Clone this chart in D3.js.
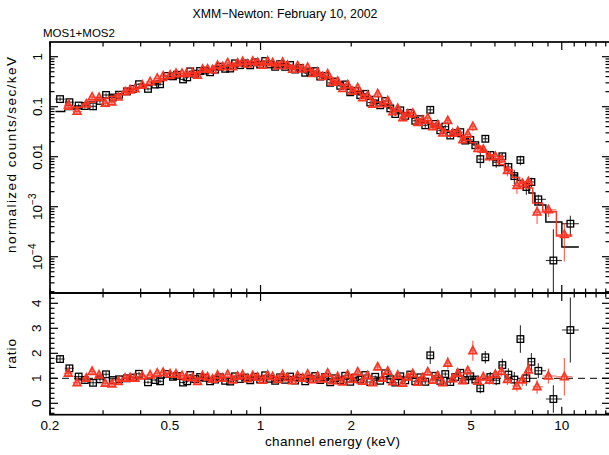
<!DOCTYPE html>
<html><head><meta charset="utf-8">
<script src="https://cdn.jsdelivr.net/npm/d3@7/dist/d3.min.js"></script>
<style>body{margin:0;background:#fff}svg{display:block}</style>
</head><body>
<svg id="c" width="609" height="455"></svg>
<script>
// ---------- data ----------
// MOS1 (black squares): bin energies (keV), model (counts/s/keV), data/model ratio, ratio error
const mos1Energy = [0.216,0.232,0.249,0.261,0.278,0.293,0.307,0.323,0.339,0.360,0.377,0.395,0.423,0.447,0.464,0.489,0.512,0.528,0.553,0.571,
 0.584,0.607,0.630,0.655,0.680,0.707,0.734,0.763,0.793,0.823,0.856,0.889,0.924,0.960,0.997,
 1.036,1.076,1.118,1.162,1.207,1.254,1.303,1.354,1.407,1.462,1.519,1.578,1.639,1.703,1.769,1.839,1.910,1.985,
 2.062,2.143,2.226,2.313,2.403,2.496,2.594,2.696,2.801,2.910,
 3.023,3.141,3.263,3.391,3.523,3.660,3.803,3.951,
 4.105,4.265,4.431,4.604,4.783,4.970,5.165,
 5.365,5.575,5.792,6.06,6.35,6.65,6.96,7.29,7.63,7.93,8.36,9.38,10.68];
const mos1Model = [0.0802,0.0879,0.0986,0.1107,0.1242,0.1361,0.1479,0.1637,0.1811,0.2023,0.2198,0.2388,0.2704,0.2979,0.3192,0.3516,0.3819,0.3999,0.4227,0.4385,
 0.4508,0.4721,0.4943,0.5176,0.5546,0.5808,0.6081,0.6368,0.6668,0.6823,0.6982,0.7145,0.7311,0.7311,0.7311,
 0.7311,0.7145,0.6982,0.6823,0.6668,0.6368,0.6081,0.5808,0.5420,0.5058,0.4721,0.4305,0.3926,0.3581,0.3192,0.2844,0.2535,0.2259,
 0.2014,0.1795,0.1600,0.1426,0.1300,0.1186,0.1081,0.0964,0.0859,0.0783,
 0.0714,0.0652,0.0594,0.0542,0.0494,0.0451,0.0411,0.0375,
 0.0342,0.0312,0.0284,0.0254,0.0226,0.0201,0.0179,
 0.0149,0.0124,0.0103,0.00839,0.00667,0.00542,0.00431,0.00334,0.00248,0.00188,0.00108,0.000494,0.000156];
const mos1Ratio = [1.77,1.40,1.07,0.93,0.82,0.96,1.16,0.93,0.96,1.00,1.03,1.18,0.84,0.93,0.88,1.17,1.06,1.09,0.83,0.88,
 1.13,0.97,1.05,1.02,0.88,0.95,1.04,0.90,0.87,1.08,0.97,1.03,0.92,1.06,0.95,
 1.12,0.98,0.90,1.04,0.94,1.07,0.91,1.02,0.88,0.97,1.09,0.93,1.05,0.84,1.00,0.92,1.10,0.86,
 1.03,0.95,1.13,0.85,1.06,0.90,1.20,0.96,0.83,1.08,
 0.92,1.15,0.88,1.04,0.86,1.92,1.10,0.90,
 1.17,0.85,1.05,1.22,0.93,1.08,0.95,
 0.60,1.84,1.05,0.92,1.53,1.15,0.95,2.57,1.00,1.66,1.30,0.17,2.93];
const mos1Err = [0.15,0.13,0.11,0.10,0.10,0.09,0.09,0.08,0.08,0.07,0.07,0.07,0.06,0.06,0.06,0.06,0.05,0.05,0.05,0.05,
 0.04,0.04,0.04,0.04,0.04,0.04,0.04,0.04,0.04,0.04,0.04,0.04,0.04,0.04,0.04,
 0.04,0.04,0.04,0.04,0.04,0.04,0.04,0.04,0.05,0.05,0.05,0.05,0.05,0.05,0.05,0.05,0.05,0.05,
 0.05,0.05,0.05,0.05,0.05,0.05,0.07,0.07,0.07,0.07,
 0.07,0.07,0.07,0.07,0.09,0.35,0.09,0.09,
 0.10,0.10,0.11,0.12,0.12,0.13,0.13,
 0.20,0.25,0.20,0.20,0.25,0.25,0.30,0.55,0.30,0.35,0.30,0.55,1.30];

// MOS2 (red triangles)
const mos2Energy = [0.230,0.246,0.264,0.276,0.291,0.305,0.321,0.337,0.355,0.369,0.383,0.405,0.430,0.454,0.475,0.501,0.524,0.549,0.568,
 0.595,0.618,0.642,0.667,0.693,0.720,0.748,0.778,0.808,0.839,0.872,0.906,0.942,0.978,1.016,
 1.056,1.097,1.140,1.184,1.230,1.278,1.328,1.380,1.434,1.490,1.548,1.608,1.671,1.736,1.804,1.874,1.947,2.023,
 2.102,2.184,2.269,2.358,2.449,2.545,2.645,2.748,2.855,2.966,
 3.082,3.202,3.327,3.457,3.591,3.731,3.877,4.028,
 4.185,4.348,4.517,4.693,4.876,5.067,5.265,
 5.49,5.75,6.02,6.30,6.60,7.10,7.40,7.75,8.28,9.03,10.2];
const mos2Model = [0.0891,0.0977,0.1120,0.1225,0.1343,0.1459,0.1607,0.1786,0.1968,0.2109,0.2259,0.2466,0.2780,0.3062,0.3327,0.3664,0.3963,0.4188,0.4385,
 0.4615,0.4832,0.5060,0.5361,0.5677,0.5945,0.6225,0.6518,0.6746,0.6903,0.7064,0.7228,0.7311,0.7311,0.7311,
 0.7228,0.7064,0.6903,0.6746,0.6518,0.6225,0.5945,0.5614,0.5239,0.4890,0.4513,0.4116,0.3754,0.3387,0.3018,0.2690,0.2397,0.2137,
 0.1905,0.1698,0.1513,0.1363,0.1243,0.1134,0.1023,0.0912,0.0821,0.0749,
 0.0683,0.0623,0.0568,0.0518,0.0473,0.0431,0.0393,0.0359,
 0.0327,0.0298,0.0269,0.0240,0.0214,0.0190,0.0164,
 0.0133,0.0108,0.0088,0.0070,0.00555,0.00384,0.00312,0.00237,0.00118,0.00079,0.00026];
const mos2Ratio = [1.20,0.82,1.00,1.27,1.13,0.80,0.77,0.87,1.00,1.02,1.00,1.09,1.13,1.20,1.23,1.17,1.17,1.10,1.05,
 1.02,0.87,1.10,1.05,0.96,1.12,1.00,1.15,0.93,1.08,1.13,0.98,1.10,1.04,0.92,
 1.12,1.06,0.95,1.14,1.02,0.90,1.10,1.00,1.16,0.94,1.08,0.97,1.20,0.90,1.06,0.85,1.14,0.95,
 1.25,0.88,1.10,0.82,1.45,1.00,1.28,0.86,1.12,0.80,
 1.05,1.18,0.84,1.02,1.25,0.92,1.10,0.82,
 1.60,0.98,1.20,0.90,1.30,2.10,0.88,
 1.05,0.92,1.15,1.27,0.95,0.69,0.93,1.33,0.66,1.09,1.06];
const mos2Err = [0.14,0.12,0.11,0.10,0.09,0.09,0.08,0.08,0.07,0.07,0.07,0.06,0.06,0.06,0.06,0.05,0.05,0.05,0.05,
 0.05,0.05,0.05,0.05,0.05,0.05,0.05,0.05,0.05,0.05,0.05,0.05,0.05,0.05,0.05,
 0.05,0.05,0.05,0.05,0.05,0.05,0.05,0.05,0.06,0.06,0.06,0.06,0.06,0.06,0.06,0.06,0.06,0.06,
 0.06,0.06,0.06,0.06,0.15,0.06,0.08,0.08,0.08,0.08,
 0.08,0.08,0.08,0.08,0.10,0.10,0.10,0.10,
 0.25,0.12,0.13,0.13,0.14,0.40,0.15,
 0.16,0.18,0.20,0.20,0.22,0.22,0.25,0.30,0.28,0.30,0.75];

// axis tick labels
const xTickLabels = [0.2, 0.5, 1, 2, 5, 10];
const yTickLabels = [1, 0.1, 0.01, 1e-3, 1e-4];
const ratioTickLabels = [0, 1, 2, 3, 4];

// ---------- layout ----------
const L = 50, R = 610, T1 = 42, B1 = 293, T2 = 293, B2 = 414.7;
const BLACK = "#000", RED = "#ff3322";
const FONT = "'Liberation Sans', Arial, Helvetica, sans-serif";

const x = d3.scaleLog().domain([0.2, 14.46]).range([L, R]);
const yTop = d3.scaleLog().domain([1.88e-5, 1.968]).range([B1, T1]);
const yRat = d3.scaleLinear().domain([-0.456, 4.412]).range([B2, T2]);

const svg = d3.select("#c");
svg.append("rect").attr("width", 609).attr("height", 455).attr("fill", "#fff");

const defs = svg.append("defs");
defs.append("clipPath").attr("id", "clipTop").append("rect")
  .attr("x", L).attr("y", T1).attr("width", R - L).attr("height", B1 - T1);
defs.append("clipPath").attr("id", "clipBot").append("rect")
  .attr("x", L).attr("y", T2).attr("width", R - L).attr("height", B2 - T2);

function build(E, M, Rt, Er) {
  const n = E.length;
  return E.map((e, i) => {
    const hi = i < n - 1 ? Math.sqrt(e * E[i + 1]) : e * e / Math.sqrt(E[i - 1] * e);
    const lo = i > 0 ? Math.sqrt(E[i - 1] * e) : e * e / Math.sqrt(e * E[i + 1]);
    return { e, lo, hi, m: M[i], r: Rt[i], er: Er[i], f: M[i] * Rt[i], fe: M[i] * Er[i] };
  });
}
const s1 = build(mos1Energy, mos1Model, mos1Ratio, mos1Err);
const s2 = build(mos2Energy, mos2Model, mos2Ratio, mos2Err);

const gTop = svg.append("g").attr("clip-path", "url(#clipTop)");
const gBot = svg.append("g").attr("clip-path", "url(#clipBot)");

// dashed unity line
gBot.append("line").attr("x1", L).attr("x2", R)
  .attr("y1", yRat(1)).attr("y2", yRat(1))
  .attr("stroke", BLACK).attr("stroke-width", 1).attr("stroke-dasharray", "7,5");

const stepLine = d3.line().x(d => x(d[0])).y(d => yTop(d[1]));

function drawSeries(data, color, marker) {
  // model step
  const pts = [];
  data.forEach(d => { pts.push([d.lo, d.m]); pts.push([d.hi, d.m]); });
  gTop.append("path").attr("d", stepLine(pts)).attr("fill", "none")
    .attr("stroke", color).attr("stroke-width", 1.4);

  // top panel error bars
  const et = gTop.append("g").attr("stroke", color).attr("stroke-width", 1.1).attr("stroke-opacity", 0.8);
  data.forEach(d => {
    const yv = yTop(d.f);
    et.append("line").attr("x1", x(d.lo)).attr("x2", x(d.hi)).attr("y1", yv).attr("y2", yv);
    const low = d.f - d.fe > 0 ? yTop(d.f - d.fe) : B1 + 5;
    et.append("line").attr("x1", x(d.e)).attr("x2", x(d.e)).attr("y1", low).attr("y2", yTop(d.f + d.fe));
  });
  // bottom panel error bars
  const eb = gBot.append("g").attr("stroke", color).attr("stroke-width", 1.1).attr("stroke-opacity", 0.8);
  data.forEach(d => {
    const yv = yRat(d.r);
    eb.append("line").attr("x1", x(d.lo)).attr("x2", x(d.hi)).attr("y1", yv).attr("y2", yv);
    eb.append("line").attr("x1", x(d.e)).attr("x2", x(d.e)).attr("y1", yRat(d.r - d.er)).attr("y2", yRat(d.r + d.er));
  });
  // markers
  [[gTop, d => yTop(d.f)], [gBot, d => yRat(d.r)]].forEach(([g, yf]) => {
    const mg = g.append("g").attr("stroke", color)
      .attr("fill", marker === "square" ? "none" : color)
      .attr("fill-opacity", 0.35)
      .attr("stroke-width", marker === "square" ? 1.3 : 1.6);
    data.forEach(d => {
      const cx = x(d.e), cy = yf(d);
      if (marker === "square") {
        mg.append("rect").attr("x", cx - 3.3).attr("y", cy - 3.3).attr("width", 6.6).attr("height", 6.6);
      } else {
        mg.append("path").attr("d", `M${cx},${cy - 4.5}L${cx + 3.9},${cy + 2.8}L${cx - 3.9},${cy + 2.8}Z`);
      }
    });
  });
}
drawSeries(s1, BLACK, "square");
drawSeries(s2, RED, "triangle");

// ---------- frames ----------
const frame = svg.append("g").attr("stroke", BLACK).attr("stroke-width", 1.7).attr("fill", "none");
frame.append("rect").attr("x", L).attr("y", T1).attr("width", R - L).attr("height", B1 - T1);
frame.append("rect").attr("x", L).attr("y", T2).attr("width", R - L).attr("height", B2 - T2);

// ---------- ticks ----------
const tk = svg.append("g").attr("stroke", BLACK).attr("stroke-width", 1.2);
const xMinor = [0.2,0.3,0.4,0.5,0.6,0.7,0.8,0.9,2,3,4,5,6,7,8,9,11,12,13,14];
const xMajor = [1, 10];
function xTicks(yEdge, dir) {
  xMinor.forEach(v => tk.append("line").attr("x1", x(v)).attr("x2", x(v)).attr("y1", yEdge).attr("y2", yEdge + dir * 4.5));
  xMajor.forEach(v => tk.append("line").attr("x1", x(v)).attr("x2", x(v)).attr("y1", yEdge).attr("y2", yEdge + dir * 8));
}
xTicks(T1, 1); xTicks(B1, -1); xTicks(T2, 1); xTicks(B2, -1);

const [ymin, ymax] = yTop.domain();
for (let d = -5; d <= 0; d++) {
  for (let k = 1; k <= 9; k++) {
    const v = k * Math.pow(10, d);
    if (v < ymin || v > ymax) continue;
    const len = k === 1 ? 8 : 4.5;
    tk.append("line").attr("x1", L).attr("x2", L + len).attr("y1", yTop(v)).attr("y2", yTop(v));
    tk.append("line").attr("x1", R).attr("x2", R - len).attr("y1", yTop(v)).attr("y2", yTop(v));
  }
}
for (let i = -2; i <= 22; i++) {
  const v = i * 0.2;
  if (v < -0.456 || v > 4.412) continue;
  const len = i % 5 === 0 ? 8 : 4.5;
  tk.append("line").attr("x1", L).attr("x2", L + len).attr("y1", yRat(v)).attr("y2", yRat(v));
  tk.append("line").attr("x1", R).attr("x2", R - len).attr("y1", yRat(v)).attr("y2", yRat(v));
}

// ---------- labels ----------
const txt = svg.append("g").attr("font-family", FONT).attr("fill", BLACK);
xTickLabels.forEach(v => {
  txt.append("text").attr("x", x(v)).attr("y", 430).attr("text-anchor", "middle")
    .attr("font-size", 13.5).text(String(v));
});
yTickLabels.forEach(v => {
  const t = txt.append("text").attr("transform", `translate(42,${yTop(v)}) rotate(-90)`)
    .attr("text-anchor", "middle").attr("font-size", 13.5);
  if (v >= 0.01) t.text(String(v));
  else {
    const ex = Math.round(Math.log10(v));
    t.append("tspan").text("10");
    t.append("tspan").attr("font-size", 10).attr("dy", -6).text("\u2212" + Math.abs(ex));
  }
});
ratioTickLabels.forEach(v => {
  txt.append("text").attr("transform", `translate(41,${yRat(v)}) rotate(-90)`)
    .attr("text-anchor", "middle").attr("font-size", 13.5).text(String(v));
});

txt.append("text").attr("x", 285).attr("y", 18).attr("text-anchor", "middle")
  .attr("font-size", 12.3).text("XMM\u2212Newton: February 10, 2002");
txt.append("text").attr("x", 43).attr("y", 37).attr("font-size", 11.5).text("MOS1+MOS2");
txt.append("text").attr("x", 332.5).attr("y", 446).attr("text-anchor", "middle")
  .attr("font-size", 13.5).attr("textLength", 135).text("channel energy (keV)");
txt.append("text").attr("transform", "translate(16,155) rotate(-90)").attr("text-anchor", "middle")
  .attr("font-size", 13.5).attr("textLength", 196).text("normalized counts/sec/keV");
txt.append("text").attr("transform", "translate(16,354) rotate(-90)").attr("text-anchor", "middle")
  .attr("font-size", 13.5).attr("textLength", 30).text("ratio");
</script>
</body></html>
